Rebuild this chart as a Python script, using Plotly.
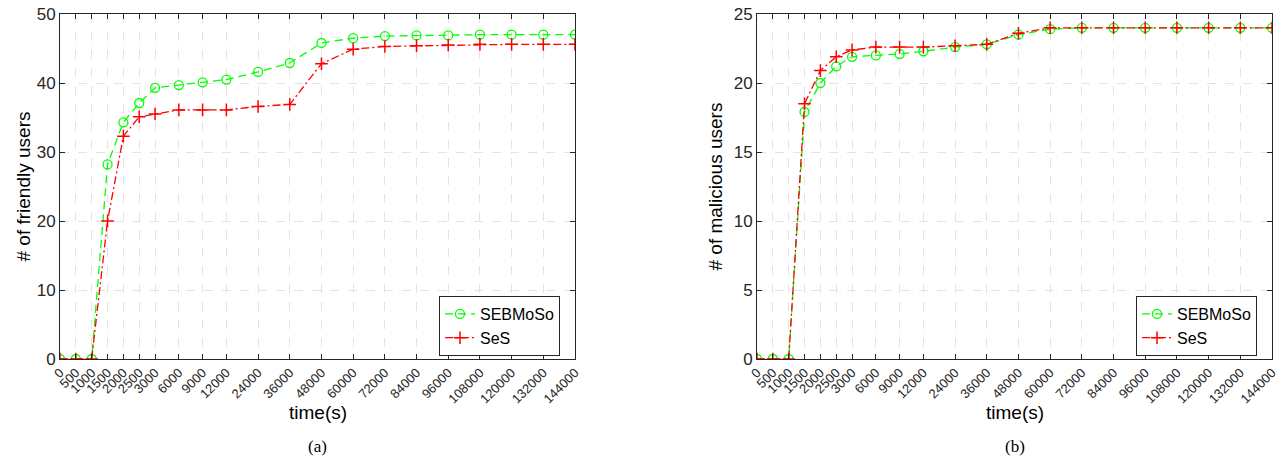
import numpy as np
import plotly.graph_objects as go

# ---------------- data ----------------
times = [0, 500, 1000, 1500, 2000, 2500, 3000, 6000, 9000, 12000, 24000, 36000,
         48000, 60000, 72000, 84000, 96000, 108000, 120000, 132000, 144000]

friendly_sebmoso = [0, 0, 0, 28.2, 34.3, 37.1, 39.3, 39.7, 40.1, 40.5, 41.6, 42.9,
                    45.8, 46.5, 46.8, 46.9, 46.9, 47.0, 47.0, 47.0, 47.0]
friendly_ses = [0, 0, 0, 20.0, 32.3, 35.1, 35.5, 36.1, 36.1, 36.1, 36.6, 36.9,
                42.8, 44.9, 45.3, 45.4, 45.5, 45.6, 45.6, 45.6, 45.6]

malicious_sebmoso = [0, 0, 0, 17.9, 20.0, 21.2, 21.9, 22.0, 22.1, 22.3, 22.6, 22.8,
                     23.5, 23.9, 24.0, 24.0, 24.0, 24.0, 24.0, 24.0, 24.0]
malicious_ses = [0, 0, 0, 18.5, 20.9, 21.9, 22.4, 22.6, 22.6, 22.6, 22.7, 22.8,
                 23.6, 24.0, 24.0, 24.0, 24.0, 24.0, 24.0, 24.0, 24.0]

series_names = ["SEBMoSo", "SeS"]
tick_labels = [str(t) for t in times]

# piecewise-linear time scale used by the original x axis
scale_breaks_time = [0, 3000, 12000, 144000]
scale_breaks_pos = [0, 6, 10.5, 32.5]


def xscale(t):
    return np.interp(np.asarray(t, dtype=float), scale_breaks_time, scale_breaks_pos)


xpos = xscale(times)

# ---------------- styling ----------------
W, H = 1283, 460
FONT = "Liberation Sans, Arial, Helvetica, sans-serif"
SERIF = "Liberation Serif, Times New Roman, serif"
GREEN = "#00ff00"
RED = "#ff0000"
AXC = "#262626"


def px_x(p):
    return p / W


def px_y(p):
    return 1 - p / H


left_dom = [px_x(60), px_x(575)]
right_dom = [px_x(757), px_x(1272)]
y_dom = [px_y(359), px_y(14)]

fig = go.Figure()


def add_pair(xa, ya, ys1, ys2, legend):
    fig.add_trace(go.Scatter(
        x=xpos, y=ys1, name=series_names[0], xaxis=xa, yaxis=ya, legend=legend,
        mode="lines+markers",
        line=dict(color=GREEN, width=1.3, dash="8px,5px"),
        marker=dict(symbol="circle-open", size=9, color=GREEN, line=dict(width=1.3, color=GREEN)),
    ))
    fig.add_trace(go.Scatter(
        x=xpos, y=ys2, name=series_names[1], xaxis=xa, yaxis=ya, legend=legend,
        mode="lines+markers",
        line=dict(color=RED, width=1.3, dash="8px,3px,2px,3px"),
        marker=dict(symbol="cross-thin-open", size=9, color=RED, line=dict(width=1.5, color=RED)),
    ))


add_pair("x", "y", friendly_sebmoso, friendly_ses, "legend")
add_pair("x2", "y2", malicious_sebmoso, malicious_ses, "legend2")

xaxis_common = dict(
    range=[0, scale_breaks_pos[-1]], tickmode="array", tickvals=xpos, ticktext=tick_labels,
    tickangle=-45, tickfont=dict(family=FONT, size=13, color=AXC), ticklabeloverflow="allow",
    showline=True, linecolor=AXC, linewidth=1, mirror="ticks",
    ticks="inside", ticklen=5, tickcolor=AXC, automargin=False,
    showgrid=True, gridcolor="#e3e3e3", griddash="dash", gridwidth=1, zeroline=False,
)
yaxis_common = dict(
    tickfont=dict(family=FONT, size=17, color=AXC), ticklabeloverflow="allow",
    showline=True, linecolor=AXC, linewidth=1, mirror="ticks",
    ticks="inside", ticklen=5, tickcolor=AXC, automargin=False,
    showgrid=True, gridcolor="#e3e3e3", griddash="dash", gridwidth=1, zeroline=False,
    domain=y_dom,
)

legend_common = dict(
    xanchor="left", yanchor="top", bordercolor=AXC, borderwidth=1, bgcolor="white",
    font=dict(family=FONT, size=16, color="#000"), tracegroupgap=0, itemwidth=30,
)


def text_ann(text, x, y, size, family=FONT, angle=0):
    return dict(text=text, x=x, y=y, xref="paper", yref="paper", xanchor="center", yanchor="middle",
                showarrow=False, textangle=angle, font=dict(family=family, size=size, color="#000"))


annotations = [
    text_ann("time(s)", (left_dom[0] + left_dom[1]) / 2, px_y(412), 19),
    text_ann("time(s)", (right_dom[0] + right_dom[1]) / 2, px_y(412), 19),
    text_ann("# of friendly users", px_x(60 - 37), (y_dom[0] + y_dom[1]) / 2, 19, angle=-90),
    text_ann("# of malicious users", px_x(757 - 42), (y_dom[0] + y_dom[1]) / 2, 19, angle=-90),
    text_ann("(a)", (left_dom[0] + left_dom[1]) / 2, px_y(446), 17, family=SERIF),
    text_ann("(b)", (right_dom[0] + right_dom[1]) / 2, px_y(446), 17, family=SERIF),
]

fig.update_layout(
    width=W, height=H,
    margin=dict(l=0, r=0, t=0, b=0, autoexpand=False),
    paper_bgcolor="white", plot_bgcolor="white",
    font=dict(family=FONT, color="#000"),
    hovermode=False,
    xaxis=dict(domain=left_dom, anchor="y", **xaxis_common),
    yaxis=dict(anchor="x", range=[0, 50], tickvals=[0, 10, 20, 30, 40, 50], **yaxis_common),
    xaxis2=dict(domain=right_dom, anchor="y2", **xaxis_common),
    yaxis2=dict(anchor="x2", range=[0, 25], tickvals=[0, 5, 10, 15, 20, 25], **yaxis_common),
    legend=dict(x=px_x(439), y=px_y(296), **legend_common),
    legend2=dict(x=px_x(1136), y=px_y(296), **legend_common),
    showlegend=True,
    annotations=annotations,
)

fig.write_html("out.html", config={"displayModeBar": False},
               post_script="document.body.style.margin='0';")
